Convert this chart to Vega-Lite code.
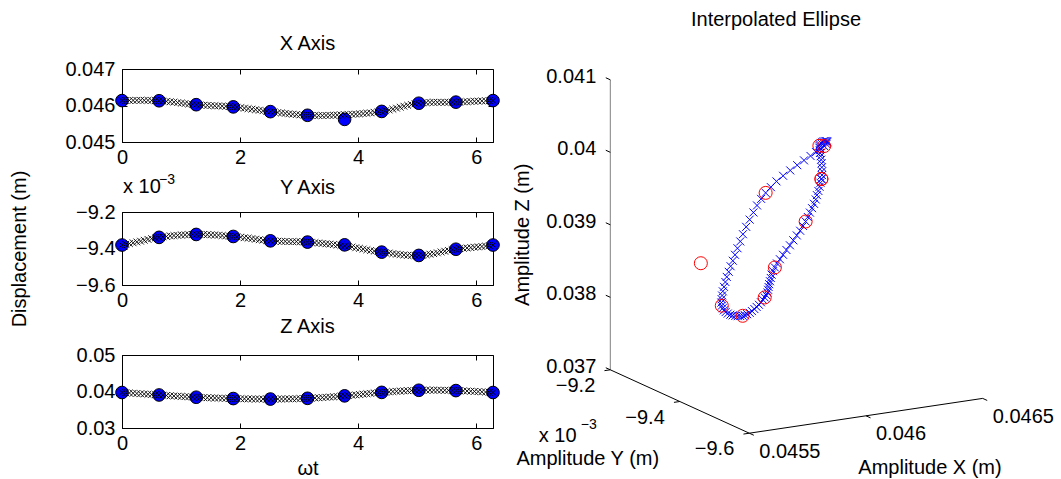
{
"$schema":"https://vega.github.io/schema/vega-lite/v6.json",
"background":"white",
"padding":{"left":8,"top":9,"right":0,"bottom":0},
"autosize":{"type":"pad"},
"datasets":{
"curve":[
{"t":0,"x":0.046135,"y":-0.009381,"z":0.039723},
{"t":0.0628,"x":0.046137,"y":-0.009377,"z":0.039661},
{"t":0.1257,"x":0.046139,"y":-0.009373,"z":0.039596},
{"t":0.1885,"x":0.04614,"y":-0.009369,"z":0.039529},
{"t":0.2513,"x":0.046141,"y":-0.009364,"z":0.03946},
{"t":0.3142,"x":0.046142,"y":-0.00936,"z":0.039391},
{"t":0.377,"x":0.046142,"y":-0.009355,"z":0.03932},
{"t":0.4398,"x":0.046141,"y":-0.00935,"z":0.03925},
{"t":0.5027,"x":0.046138,"y":-0.009346,"z":0.039181},
{"t":0.5655,"x":0.046135,"y":-0.009342,"z":0.039113},
{"t":0.6283,"x":0.04613,"y":-0.009339,"z":0.039047},
{"t":0.6912,"x":0.046123,"y":-0.009336,"z":0.038982},
{"t":0.754,"x":0.046114,"y":-0.009334,"z":0.038916},
{"t":0.8168,"x":0.046104,"y":-0.009331,"z":0.03885},
{"t":0.8796,"x":0.046092,"y":-0.009329,"z":0.038784},
{"t":0.9425,"x":0.046079,"y":-0.009328,"z":0.038719},
{"t":1.0053,"x":0.046067,"y":-0.009326,"z":0.038656},
{"t":1.0681,"x":0.046054,"y":-0.009325,"z":0.038594},
{"t":1.131,"x":0.046042,"y":-0.009324,"z":0.038536},
{"t":1.1938,"x":0.046031,"y":-0.009323,"z":0.038481},
{"t":1.2566,"x":0.046022,"y":-0.009323,"z":0.03843},
{"t":1.3195,"x":0.046014,"y":-0.009323,"z":0.038383},
{"t":1.3823,"x":0.046008,"y":-0.009323,"z":0.038338},
{"t":1.4451,"x":0.046003,"y":-0.009324,"z":0.038296},
{"t":1.508,"x":0.045998,"y":-0.009325,"z":0.038256},
{"t":1.5708,"x":0.045993,"y":-0.009326,"z":0.03822},
{"t":1.6336,"x":0.045989,"y":-0.009327,"z":0.038185},
{"t":1.6965,"x":0.045984,"y":-0.009329,"z":0.038153},
{"t":1.7593,"x":0.045978,"y":-0.009331,"z":0.038123},
{"t":1.8221,"x":0.045971,"y":-0.009332,"z":0.038095},
{"t":1.885,"x":0.045962,"y":-0.009334,"z":0.038069},
{"t":1.9478,"x":0.045952,"y":-0.009336,"z":0.038045},
{"t":2.0106,"x":0.04594,"y":-0.009338,"z":0.038022},
{"t":2.0735,"x":0.045927,"y":-0.009341,"z":0.038},
{"t":2.1363,"x":0.045914,"y":-0.009343,"z":0.037981},
{"t":2.1991,"x":0.0459,"y":-0.009346,"z":0.037965},
{"t":2.2619,"x":0.045885,"y":-0.009349,"z":0.037951},
{"t":2.3248,"x":0.045871,"y":-0.009352,"z":0.03794},
{"t":2.3876,"x":0.045857,"y":-0.009354,"z":0.037933},
{"t":2.4504,"x":0.045844,"y":-0.009356,"z":0.03793},
{"t":2.5133,"x":0.045832,"y":-0.009358,"z":0.037931},
{"t":2.5761,"x":0.04582,"y":-0.009359,"z":0.037935},
{"t":2.6389,"x":0.045808,"y":-0.00936,"z":0.037942},
{"t":2.7018,"x":0.045796,"y":-0.009361,"z":0.037953},
{"t":2.7646,"x":0.045784,"y":-0.009361,"z":0.037966},
{"t":2.8274,"x":0.045773,"y":-0.009362,"z":0.037983},
{"t":2.8903,"x":0.045762,"y":-0.009362,"z":0.038004},
{"t":2.9531,"x":0.045753,"y":-0.009362,"z":0.038029},
{"t":3.0159,"x":0.045744,"y":-0.009363,"z":0.038059},
{"t":3.0788,"x":0.045737,"y":-0.009364,"z":0.038094},
{"t":3.1416,"x":0.045732,"y":-0.009365,"z":0.038134},
{"t":3.2044,"x":0.045729,"y":-0.009366,"z":0.03818},
{"t":3.2673,"x":0.045727,"y":-0.009368,"z":0.038232},
{"t":3.3301,"x":0.045726,"y":-0.00937,"z":0.038288},
{"t":3.3929,"x":0.045726,"y":-0.009372,"z":0.03835},
{"t":3.4558,"x":0.045728,"y":-0.009374,"z":0.038415},
{"t":3.5186,"x":0.045731,"y":-0.009376,"z":0.038485},
{"t":3.5814,"x":0.045734,"y":-0.009378,"z":0.038558},
{"t":3.6442,"x":0.045738,"y":-0.009381,"z":0.038633},
{"t":3.7071,"x":0.045743,"y":-0.009383,"z":0.038712},
{"t":3.7699,"x":0.045748,"y":-0.009386,"z":0.038792},
{"t":3.8327,"x":0.045753,"y":-0.009389,"z":0.038878},
{"t":3.8956,"x":0.045759,"y":-0.009392,"z":0.038972},
{"t":3.9584,"x":0.045765,"y":-0.009396,"z":0.039072},
{"t":4.0212,"x":0.045772,"y":-0.009399,"z":0.039175},
{"t":4.0841,"x":0.04578,"y":-0.009403,"z":0.039281},
{"t":4.1469,"x":0.045789,"y":-0.009407,"z":0.039385},
{"t":4.2097,"x":0.045799,"y":-0.009411,"z":0.039488},
{"t":4.2726,"x":0.04581,"y":-0.009414,"z":0.039586},
{"t":4.3354,"x":0.045823,"y":-0.009417,"z":0.039677},
{"t":4.3982,"x":0.045838,"y":-0.00942,"z":0.039759},
{"t":4.4611,"x":0.045856,"y":-0.009423,"z":0.039836},
{"t":4.5239,"x":0.045877,"y":-0.009425,"z":0.03991},
{"t":4.5867,"x":0.045901,"y":-0.009428,"z":0.039982},
{"t":4.6496,"x":0.045927,"y":-0.009431,"z":0.04005},
{"t":4.7124,"x":0.045954,"y":-0.009433,"z":0.040114},
{"t":4.7752,"x":0.04598,"y":-0.009435,"z":0.040172},
{"t":4.8381,"x":0.046005,"y":-0.009437,"z":0.040225},
{"t":4.9009,"x":0.046027,"y":-0.009438,"z":0.04027},
{"t":4.9637,"x":0.046047,"y":-0.009438,"z":0.040308},
{"t":5.0265,"x":0.046062,"y":-0.009438,"z":0.040337},
{"t":5.0894,"x":0.046073,"y":-0.009437,"z":0.040357},
{"t":5.1522,"x":0.04608,"y":-0.009434,"z":0.04037},
{"t":5.215,"x":0.046085,"y":-0.009431,"z":0.040374},
{"t":5.2779,"x":0.046087,"y":-0.009428,"z":0.040372},
{"t":5.3407,"x":0.046088,"y":-0.009424,"z":0.040364},
{"t":5.4035,"x":0.046088,"y":-0.009419,"z":0.04035},
{"t":5.4664,"x":0.046088,"y":-0.009415,"z":0.040331},
{"t":5.5292,"x":0.046088,"y":-0.009411,"z":0.040308},
{"t":5.592,"x":0.046089,"y":-0.009407,"z":0.040281},
{"t":5.6549,"x":0.046092,"y":-0.009404,"z":0.040252},
{"t":5.7177,"x":0.046096,"y":-0.009401,"z":0.040218},
{"t":5.7805,"x":0.046101,"y":-0.009399,"z":0.040177},
{"t":5.8434,"x":0.046105,"y":-0.009397,"z":0.040131},
{"t":5.9062,"x":0.046111,"y":-0.009395,"z":0.040079},
{"t":5.969,"x":0.046116,"y":-0.009393,"z":0.040024},
{"t":6.0319,"x":0.046121,"y":-0.009391,"z":0.039967},
{"t":6.0947,"x":0.046125,"y":-0.009389,"z":0.039906},
{"t":6.1575,"x":0.046129,"y":-0.009387,"z":0.039845},
{"t":6.2204,"x":0.046133,"y":-0.009384,"z":0.039784},
{"t":6.2832,"x":0.046135,"y":-0.009381,"z":0.039723}
],
"circles":[
{"t":0,"x":0.046135,"y":-0.009381,"z":0.039723},
{"t":0.6283,"x":0.04613,"y":-0.009339,"z":0.039047},
{"t":1.2566,"x":0.046022,"y":-0.009323,"z":0.03843},
{"t":1.885,"x":0.045962,"y":-0.009334,"z":0.038069},
{"t":2.5133,"x":0.045832,"y":-0.009358,"z":0.037931},
{"t":3.1416,"x":0.045732,"y":-0.009365,"z":0.038134},
{"t":3.7699,"x":0.04562,"y":-0.00938,"z":0.038806},
{"t":4.3982,"x":0.045838,"y":-0.00942,"z":0.039759},
{"t":5.0265,"x":0.046062,"y":-0.009438,"z":0.040337},
{"t":5.6549,"x":0.046092,"y":-0.009404,"z":0.040252},
{"t":6.2832,"x":0.046135,"y":-0.009381,"z":0.039723}
],
"axes3d":[
{"axis":"Z","x1":0.0455,"y1":-0.0092,"z1":0.037,"x2":0.0455,"y2":-0.0092,"z2":0.041},
{"axis":"Y","x1":0.0455,"y1":-0.0092,"z1":0.037,"x2":0.0455,"y2":-0.0096,"z2":0.037},
{"axis":"X","x1":0.0455,"y1":-0.0096,"z1":0.037,"x2":0.0465,"y2":-0.0096,"z2":0.037}
],
"ticks3d":[
{"axis":"Z","x":0.0455,"y":-0.0092,"z":0.037,"label":"0.037"},
{"axis":"Z","x":0.0455,"y":-0.0092,"z":0.038,"label":"0.038"},
{"axis":"Z","x":0.0455,"y":-0.0092,"z":0.039,"label":"0.039"},
{"axis":"Z","x":0.0455,"y":-0.0092,"z":0.04,"label":"0.04"},
{"axis":"Z","x":0.0455,"y":-0.0092,"z":0.041,"label":"0.041"},
{"axis":"Y","x":0.0455,"y":-0.0092,"z":0.037,"label":"−9.2"},
{"axis":"Y","x":0.0455,"y":-0.0094,"z":0.037,"label":"−9.4"},
{"axis":"Y","x":0.0455,"y":-0.0096,"z":0.037,"label":"−9.6"},
{"axis":"X","x":0.0455,"y":-0.0096,"z":0.037,"label":"0.0455"},
{"axis":"X","x":0.046,"y":-0.0096,"z":0.037,"label":"0.046"},
{"axis":"X","x":0.0465,"y":-0.0096,"z":0.037,"label":"0.0465"}
],
"titles3d":[
{"key":"Z","label":"Amplitude Z (m)","x":0.0455,"y":-0.0092,"z":0.039},
{"key":"Y","label":"Amplitude Y (m)","x":0.0455,"y":-0.0094,"z":0.037},
{"key":"E","label":"x 10","x":0.0455,"y":-0.0094,"z":0.037},
{"key":"S","label":"−3","x":0.0455,"y":-0.0094,"z":0.037},
{"key":"X","label":"Amplitude X (m)","x":0.046,"y":-0.0096,"z":0.037}
]
},
"concat":[
{"width":371,"height":73,
 "title":{"text":"X Axis","offset":5},
 "resolve":{"axis":{"x":"independent","y":"independent"}},
 "layer":[
  {"data":{"name":"circles"},
   "mark":{"type":"point","shape":"circle","filled":true,"fill":"#0000ff","stroke":"#000000","strokeWidth":1,"size":160,"opacity":1},
   "encoding":{
    "x":{"field":"t","type":"quantitative","scale":{"domain":[0,6.2832],"nice":false,"zero":false},"axis":{"values":[0,2,4,6],"format":"d","title":null,"labelOverlap":false}},
    "y":{"field":"x","type":"quantitative","scale":{"domain":[0.045,0.047],"nice":false,"zero":false},"axis":{"values":[0.045,0.046,0.047],"format":".3f","title":null,"labelOverlap":false}}}},
  {"data":{"name":"curve"},
   "mark":{"type":"point","shape":"M-1,-1L1,1M-1,1L1,-1","filled":false,"color":"#000000","strokeWidth":0.9,"size":46,"opacity":1},
   "encoding":{"x":{"field":"t","type":"quantitative","axis":{"orient":"top","values":[0,2,4,6],"labels":false,"domain":false,"title":null}},"y":{"field":"x","type":"quantitative","axis":{"orient":"right","values":[0.045,0.046,0.047],"labels":false,"domain":false,"title":null}}}}
 ]},
{"width":520,"height":73,
 "view":{"stroke":null},
 "title":{"text":"Interpolated Ellipse","offset":37,"dx":-6},
 "encoding":{
  "x":{"field":"u","type":"quantitative","scale":{"domain":[-227.3,292.7],"nice":false,"zero":false},"axis":null},
  "y":{"field":"v","type":"quantitative","scale":{"domain":[291.2,364.2],"nice":false,"zero":false},"axis":null}
 },
 "layer":[
  {"data":{"name":"axes3d"},
   "transform":[
    {"calculate":"233400*(datum.x1-0.0455)-347500*(datum.y1+0.0096)","as":"u"},
    {"calculate":"34800*(datum.x1-0.0455)+158500*(datum.y1+0.0096)+72500*(datum.z1-0.037)","as":"v"},
    {"calculate":"233400*(datum.x2-0.0455)-347500*(datum.y2+0.0096)","as":"u2"},
    {"calculate":"34800*(datum.x2-0.0455)+158500*(datum.y2+0.0096)+72500*(datum.z2-0.037)","as":"v2"}],
   "mark":{"type":"rule","strokeWidth":1},
   "encoding":{"x2":{"field":"u2"},"y2":{"field":"v2"},
    "color":{"field":"axis","type":"nominal","scale":{"domain":["X","Y","Z"],"range":["#000000","#000000","#808080"]},"legend":null}}},
  {"data":{"name":"ticks3d"},
   "transform":[
    {"calculate":"datum.axis==='Y' ? datum.x-0.000025 : datum.x","as":"xb"},
    {"calculate":"datum.axis==='Z' ? datum.y+0.000013 : (datum.axis==='X' ? datum.y-0.000013 : datum.y)","as":"yb"},
    {"calculate":"233400*(datum.x-0.0455)-347500*(datum.y+0.0096)","as":"u"},
    {"calculate":"34800*(datum.x-0.0455)+158500*(datum.y+0.0096)+72500*(datum.z-0.037)","as":"v"},
    {"calculate":"233400*(datum.xb-0.0455)-347500*(datum.yb+0.0096)","as":"u2"},
    {"calculate":"34800*(datum.xb-0.0455)+158500*(datum.yb+0.0096)+72500*(datum.z-0.037)","as":"v2"}],
   "mark":{"type":"rule","strokeWidth":1,"color":"#000000"},
   "encoding":{"x2":{"field":"u2"},"y2":{"field":"v2"}}},
  {"data":{"name":"ticks3d"},
   "transform":[{"filter":"datum.axis==='Z'"},
    {"calculate":"233400*(datum.x-0.0455)-347500*(datum.y+0.0096)","as":"u"},
    {"calculate":"34800*(datum.x-0.0455)+158500*(datum.y+0.0096)+72500*(datum.z-0.037)","as":"v"}],
   "mark":{"type":"text","align":"right","baseline":"middle","dx":-14,"dy":-3},
   "encoding":{"text":{"field":"label"}}},
  {"data":{"name":"ticks3d"},
   "transform":[{"filter":"datum.axis==='Y'"},
    {"calculate":"233400*(datum.x-0.0455)-347500*(datum.y+0.0096)","as":"u"},
    {"calculate":"34800*(datum.x-0.0455)+158500*(datum.y+0.0096)+72500*(datum.z-0.037)","as":"v"}],
   "mark":{"type":"text","align":"right","baseline":"middle","dx":-15,"dy":16},
   "encoding":{"text":{"field":"label"}}},
  {"data":{"name":"ticks3d"},
   "transform":[{"filter":"datum.axis==='X'"},
    {"calculate":"233400*(datum.x-0.0455)-347500*(datum.y+0.0096)","as":"u"},
    {"calculate":"34800*(datum.x-0.0455)+158500*(datum.y+0.0096)+72500*(datum.z-0.037)","as":"v"}],
   "mark":{"type":"text","align":"left","baseline":"middle","dx":10,"dy":18.5},
   "encoding":{"text":{"field":"label"}}},
  {"data":{"name":"titles3d"},
   "transform":[{"filter":"datum.key==='Z'"},
    {"calculate":"233400*(datum.x-0.0455)-347500*(datum.y+0.0096)","as":"u"},
    {"calculate":"34800*(datum.x-0.0455)+158500*(datum.y+0.0096)+72500*(datum.z-0.037)","as":"v"}],
   "mark":{"type":"text","align":"center","baseline":"middle","angle":270,"dx":-10,"dy":-87},
   "encoding":{"text":{"field":"label"}}},
  {"data":{"name":"titles3d"},
   "transform":[{"filter":"datum.key==='Y'"},
    {"calculate":"233400*(datum.x-0.0455)-347500*(datum.y+0.0096)","as":"u"},
    {"calculate":"34800*(datum.x-0.0455)+158500*(datum.y+0.0096)+72500*(datum.z-0.037)","as":"v"}],
   "mark":{"type":"text","align":"center","baseline":"middle","dx":-92,"dy":57.5},
   "encoding":{"text":{"field":"label"}}},
  {"data":{"name":"titles3d"},
   "transform":[{"filter":"datum.key==='E'"},
    {"calculate":"233400*(datum.x-0.0455)-347500*(datum.y+0.0096)","as":"u"},
    {"calculate":"34800*(datum.x-0.0455)+158500*(datum.y+0.0096)+72500*(datum.z-0.037)","as":"v"}],
   "mark":{"type":"text","align":"left","baseline":"alphabetic","dx":-141,"dy":40},
   "encoding":{"text":{"field":"label"}}},
  {"data":{"name":"titles3d"},
   "transform":[{"filter":"datum.key==='S'"},
    {"calculate":"233400*(datum.x-0.0455)-347500*(datum.y+0.0096)","as":"u"},
    {"calculate":"34800*(datum.x-0.0455)+158500*(datum.y+0.0096)+72500*(datum.z-0.037)","as":"v"}],
   "mark":{"type":"text","align":"left","baseline":"alphabetic","dx":-99,"dy":27,"fontSize":14},
   "encoding":{"text":{"field":"label"}}},
  {"data":{"name":"titles3d"},
   "transform":[{"filter":"datum.key==='X'"},
    {"calculate":"233400*(datum.x-0.0455)-347500*(datum.y+0.0096)","as":"u"},
    {"calculate":"34800*(datum.x-0.0455)+158500*(datum.y+0.0096)+72500*(datum.z-0.037)","as":"v"}],
   "mark":{"type":"text","align":"center","baseline":"middle","dx":64,"dy":52},
   "encoding":{"text":{"field":"label"}}},
  {"data":{"name":"curve"},
   "transform":[
    {"calculate":"233400*(datum.x-0.0455)-347500*(datum.y+0.0096)","as":"u"},
    {"calculate":"34800*(datum.x-0.0455)+158500*(datum.y+0.0096)+72500*(datum.z-0.037)","as":"v"}],
   "mark":{"type":"point","shape":"M-1,-1L1,1M-1,1L1,-1","filled":false,"color":"#0000ff","strokeWidth":1,"size":64,"opacity":1}},
  {"data":{"name":"circles"},
   "transform":[
    {"calculate":"233400*(datum.x-0.0455)-347500*(datum.y+0.0096)","as":"u"},
    {"calculate":"34800*(datum.x-0.0455)+158500*(datum.y+0.0096)+72500*(datum.z-0.037)","as":"v"}],
   "mark":{"type":"point","shape":"circle","filled":false,"color":"#ff0000","strokeWidth":1,"size":169,"opacity":1}}
 ]},
{"width":371,"height":73,
 "resolve":{"axis":{"x":"independent","y":"independent"}},
 "layer":[
  {"data":{"name":"circles"},
   "mark":{"type":"point","shape":"circle","filled":true,"fill":"#0000ff","stroke":"#000000","strokeWidth":1,"size":160,"opacity":1},
   "encoding":{
    "x":{"field":"t","type":"quantitative","scale":{"domain":[0,6.2832],"nice":false,"zero":false},"axis":{"values":[0,2,4,6],"format":"d","title":null,"labelOverlap":false}},
    "y":{"field":"y","type":"quantitative","scale":{"domain":[-0.0096,-0.0092],"nice":false,"zero":false},"axis":{"values":[-0.0096,-0.0094,-0.0092],"labelExpr":"format(datum.value*1000,'.1f')","labelOverlap":false,"title":"Displacement (m)","titleX":-103,"titleY":36.5,"titleAngle":270,"titleAlign":"center","titleBaseline":"middle"}}}},
  {"data":{"name":"curve"},
   "mark":{"type":"point","shape":"M-1,-1L1,1M-1,1L1,-1","filled":false,"color":"#000000","strokeWidth":0.9,"size":46,"opacity":1},
   "encoding":{"x":{"field":"t","type":"quantitative","axis":{"orient":"top","values":[0,2,4,6],"labels":false,"domain":false,"title":null}},"y":{"field":"y","type":"quantitative","axis":{"orient":"right","values":[-0.0096,-0.0094,-0.0092],"labels":false,"domain":false,"title":null}}}},
  {"data":{"values":[{"s":"Y Axis"}]},
   "mark":{"type":"text","align":"center","baseline":"middle","dy":-24},
   "encoding":{"x":{"datum":3.1416,"type":"quantitative","axis":null},"y":{"datum":-0.0092,"type":"quantitative","axis":null},"text":{"field":"s"}}},
  {"data":{"values":[{"s":"x 10"}]},
   "mark":{"type":"text","align":"left","baseline":"alphabetic","dx":1,"dy":-19},
   "encoding":{"x":{"datum":0,"type":"quantitative","axis":null},"y":{"datum":-0.0092,"type":"quantitative","axis":null},"text":{"field":"s"}}},
  {"data":{"values":[{"s":"−3"}]},
   "mark":{"type":"text","align":"left","baseline":"alphabetic","dx":37,"dy":-28,"fontSize":14},
   "encoding":{"x":{"datum":0,"type":"quantitative","axis":null},"y":{"datum":-0.0092,"type":"quantitative","axis":null},"text":{"field":"s"}}}
 ]},
{"width":10,"height":73,
 "view":{"stroke":null},
 "data":{"values":[{"a":1}]},
 "mark":{"type":"point","opacity":0},
 "encoding":{}},
{"width":371,"height":73,
 "title":{"text":"Z Axis","offset":8},
 "resolve":{"axis":{"x":"independent","y":"independent"}},
 "layer":[
  {"data":{"name":"circles"},
   "mark":{"type":"point","shape":"circle","filled":true,"fill":"#0000ff","stroke":"#000000","strokeWidth":1,"size":160,"opacity":1},
   "encoding":{
    "x":{"field":"t","type":"quantitative","scale":{"domain":[0,6.2832],"nice":false,"zero":false},"axis":{"values":[0,2,4,6],"format":"d","labelOverlap":false,"title":"ωt","titleY":40,"titleBaseline":"middle"}},
    "y":{"field":"z","type":"quantitative","scale":{"domain":[0.03,0.05],"nice":false,"zero":false},"axis":{"values":[0.03,0.04,0.05],"format":".2f","title":null,"labelOverlap":false}}}},
  {"data":{"name":"curve"},
   "mark":{"type":"point","shape":"M-1,-1L1,1M-1,1L1,-1","filled":false,"color":"#000000","strokeWidth":0.9,"size":46,"opacity":1},
   "encoding":{"x":{"field":"t","type":"quantitative","axis":{"orient":"top","values":[0,2,4,6],"labels":false,"domain":false,"title":null}},"y":{"field":"z","type":"quantitative","axis":{"orient":"right","values":[0.03,0.04,0.05],"labels":false,"domain":false,"title":null}}}}
 ]}
],
"columns":2,
"align":"each",
"spacing":{"row":70,"column":29},
"bounds":"flush",
"config":{
 "font":"Liberation Sans",
 "view":{"stroke":"#000000","strokeWidth":1},
 "axis":{"labelFont":"Liberation Sans","labelFontSize":20,"labelColor":"#000000","titleFont":"Liberation Sans","titleFontSize":20,"titleFontWeight":"normal","titleColor":"#000000","domainColor":"#000000","domainWidth":1,"tickColor":"#000000","tickWidth":1,"tickSize":-5,"labelPadding":7,"grid":false,"labelFlush":false,"labelOverlap":false,"labelBound":false},
 "axisX":{"labelPadding":10},
 "axisY":{"labelPadding":12},
 "title":{"font":"Liberation Sans","fontSize":20,"fontWeight":"normal","color":"#000000"},
 "text":{"font":"Liberation Sans","fontSize":20,"color":"#000000"}
}
}
